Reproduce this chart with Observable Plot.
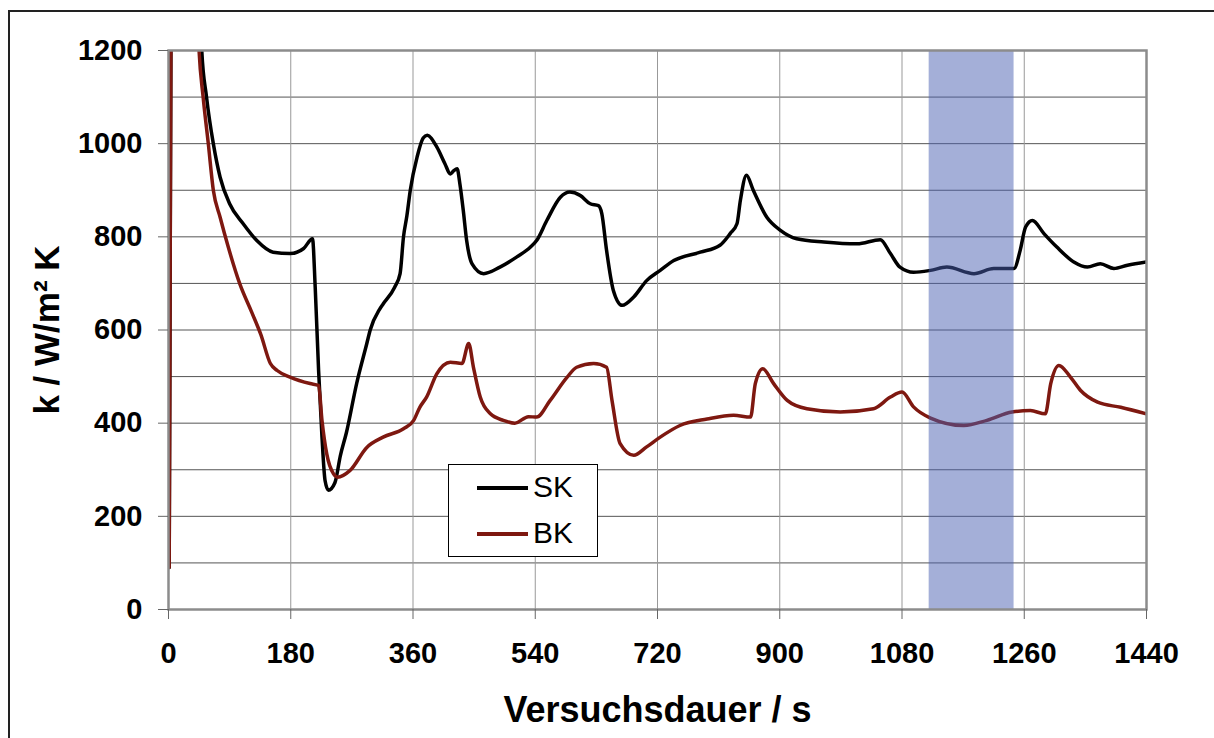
<!DOCTYPE html>
<html><head><meta charset="utf-8">
<script src="https://cdn.jsdelivr.net/npm/d3@7"></script>
<script src="https://cdn.jsdelivr.net/npm/@observablehq/plot@0.6"></script>
<style>
html,body{margin:0;padding:0;background:#fff;overflow:hidden;}
#wrap{position:relative;width:1214px;height:738px;font-family:"Liberation Sans",Arial,sans-serif;}
#border{position:absolute;left:8px;top:10px;width:1240px;height:780px;border:2px solid #222;box-sizing:border-box;pointer-events:none;}
#legend{position:absolute;left:448px;top:464px;width:150px;height:93px;background:#fff;border:1px solid #000;box-sizing:border-box;}
.lg-line{position:absolute;left:28px;width:51px;height:4px;}
.lg-text{position:absolute;left:84px;height:34px;line-height:34px;font-size:30px;color:#000;}
svg{position:absolute;left:0;top:0;}
</style>
</head><body>
<div id="wrap"><div id="border"></div></div>
<script>
// Data (t in s, k in W/m² K)
const skTime = [1,3.5,4,44,49,56,66,76,90,110,130,154,179,199,212,216,221,226,230.5,235.5,245,253,262,277,292,297,311,316,333,341,346,351,356,366,375,381,395,407,415,420,425,429,434,439,447,464,488,513,533,542,557,577,591,606,621,633,638,645,655,668,685,704,724,744,783,812,827,837,842,851,861,881,901,925,965,1014,1048,1063,1077,1097,1122,1146,1186,1215,1245,1254,1262,1272,1289,1308,1333,1353,1372,1392,1412,1440];
const skK    = [90,1200,1400,1400,1200,1100,1000,928,871,828,792,767,764,775,796,692,513,370,277,256,272,330,380,485,571,600,645,656,692,721,800,845,900,971,1012,1018,993,957,935,942,946,914,857,792,742,721,735,757,778,792,835,885,896,889,871,867,850,771,685,653,671,706,728,749,767,782,807,828,878,932,900,842,814,796,789,785,794,764,735,724,728,735,721,732,732,771,821,835,807,778,746,735,742,732,739,746];
const bkTime = [1,3.5,4,40,45,51,58.6,66,76,88,105,122,136,150,160,179,208.5,221,226,233,243,249,267,292,316,346,361,370,380,395,415,432,442,449,459,474,493,510,530,542,562,587,601,626,645,653,665,685,704,724,753,793,832,857,864,875,891,911,940,989,1038,1063,1080,1097,1122,1171,1205,1242,1269,1291,1299,1311,1328,1343,1368,1402,1440];
const bkK    = [90,1200,1400,1400,1200,1100,1000,900,842,778,699,640,590,528,513,499,485,481,406,334,291,284,298,348,370,388,406,434,456,506,531,528,571,520,456,420,406,400,414,413,449,499,520,528,520,449,356,331,349,370,395,409,417,413,485,517,485,449,431,424,431,456,467,435,411,395,406,424,427,420,485,524,499,470,445,434,420];
const seriesNames = ["SK","BK"];
const seriesColors = ["#000000","#7e1810"];
const bandStart = [1120];
const bandEnd = [1245];
const xTicks = [0,180,360,540,720,900,1080,1260,1440];
const yTicks = [0,200,400,600,800,1000,1200];
const yGrid = [100,200,300,400,500,600,700,800,900,1000,1100];
const xTitle = "Versuchsdauer / s";
const yTitle = "k / W/m² K";

const sk = skTime.map((t,i)=>({t, k: skK[i]}));
const bk = bkTime.map((t,i)=>({t, k: bkK[i]}));
const band = bandStart.map((s,i)=>({start:s, end:bandEnd[i]}));
const fmt = d => String(d);

const chart = Plot.plot({
  width:1214, height:738,
  marginLeft:168, marginRight:68, marginTop:50, marginBottom:129,
  x:{domain:[0,1440]}, y:{domain:[0,1200]},
  style:{fontFamily:"'Liberation Sans', Arial, sans-serif", background:"transparent", color:"#000", overflow:"visible"},
  marks:[
    Plot.gridY(yGrid, {stroke:"#555", strokeOpacity:1}),
    Plot.gridX(xTicks, {stroke:"#999", strokeOpacity:1}),
    Plot.line(sk, {x:"t", y:"k", stroke:seriesColors[0], strokeWidth:3.5, clip:true, curve:"monotone-x"}),
    Plot.line(bk, {x:"t", y:"k", stroke:seriesColors[1], strokeWidth:3.5, clip:true, curve:"monotone-x"}),
    Plot.rect(band, {x1:"start", x2:"end", y1:0, y2:1200, fill:"#4a5fb2", fillOpacity:0.5}),
    Plot.frame({stroke:"#8c8c8c", strokeWidth:2.5}),
    Plot.axisY(yTicks, {tickSize:10, tickPadding:16, fontSize:29, fontWeight:"bold", label:null, stroke:"#666", tickFormat:fmt}),
    Plot.axisX(xTicks, {tickSize:10, tickPadding:23, fontSize:29, fontWeight:"bold", label:null, stroke:"#666", tickFormat:fmt}),
    Plot.text([yTitle], {text:d=>d, frameAnchor:"left", textAnchor:"middle", dx:-121, rotate:-90, fontSize:35, fontWeight:"bold", fill:"#000"}),
    Plot.text([xTitle], {text:d=>d, frameAnchor:"bottom", textAnchor:"middle", dy:112, fontSize:36, fontWeight:"bold", fill:"#000"})
  ]
});
const wrap = document.getElementById("wrap");
wrap.insertBefore(chart, wrap.firstChild);

const legend = document.createElement("div");
legend.id = "legend";
const rowsY = [23, 69];
seriesNames.forEach((name,i)=>{
  const ln = document.createElement("div");
  ln.className = "lg-line";
  ln.style.top = (rowsY[i]-2)+"px";
  ln.style.background = seriesColors[i];
  legend.appendChild(ln);
  const tx = document.createElement("div");
  tx.className = "lg-text";
  tx.style.top = (rowsY[i]-18)+"px";
  tx.textContent = name;
  legend.appendChild(tx);
});
wrap.appendChild(legend);
</script>
</body></html>
